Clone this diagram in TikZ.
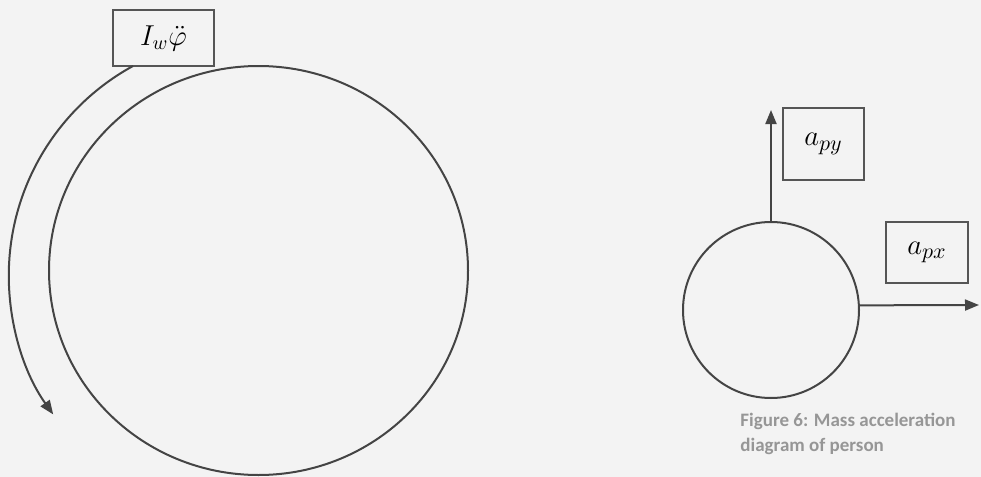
\documentclass[tikz,border=0pt]{standalone}
\usepackage{fontspec}
\newfontfamily\capfont{Carlito}
\usetikzlibrary{arrows.meta,shapes.geometric}
\definecolor{bg}{RGB}{243,243,243}
\definecolor{ln}{RGB}{68,68,68}
\definecolor{boxln}{RGB}{85,85,85}
\definecolor{capgray}{RGB}{150,150,150}
\begin{document}
\begin{tikzpicture}[x=0.5pt,y=-0.5pt,
  lbl/.style={draw=boxln, line width=0.8pt, inner sep=0pt, fill=bg},
  body/.style={draw=ln, line width=1pt, inner sep=0pt},
  arr/.style={draw=ln, line width=1pt, -{Triangle[length=7pt,width=5.5pt]}},
  captext/.style={text=capgray, font=\capfont\bfseries\fontsize{9.5}{12}\selectfont, inner sep=0pt, anchor=base west}]
\fill[bg] (0,0) rectangle (981,477);
\useasboundingbox (0,0) rectangle (981,477);
% wheel
\node[body, ellipse, minimum width=209.5pt, minimum height=204.5pt] (wheel) at (258.5,270.5) {};
\node[lbl, minimum width=50.5pt, minimum height=28pt, font=\fontsize{14}{16}\selectfont] (Iw) at (163.5,38) {$I_w\ddot{\varphi}$};
\coordinate (arcstart) at (133,66);
\draw[arr] (arcstart) arc[start angle=241.3, end angle=144.5, radius=239];
% person mass
\node[body, circle, minimum size=88pt] (pc) at (771,310) {};
\coordinate (vy) at (771,110);
\coordinate (hx) at (979,305);
\draw[arr] (pc.north) -- (vy);
\draw[arr] (pc.3) -- (hx);
\node[lbl, minimum width=40.5pt, minimum height=36pt, font=\fontsize{15}{17}\selectfont] (apy) at (823.5,144) {$a_{py}$};
\node[lbl, minimum width=41pt, minimum height=30.5pt, font=\fontsize{15}{17}\selectfont] (apx) at (927,252.5) {$a_{px}$};
% caption
\node[captext] (cap1) at (740,426) {Figure 6: Mass acceleration};
\node[captext] (cap2) at (740,451) {diagram of person};
\end{tikzpicture}
\end{document}
